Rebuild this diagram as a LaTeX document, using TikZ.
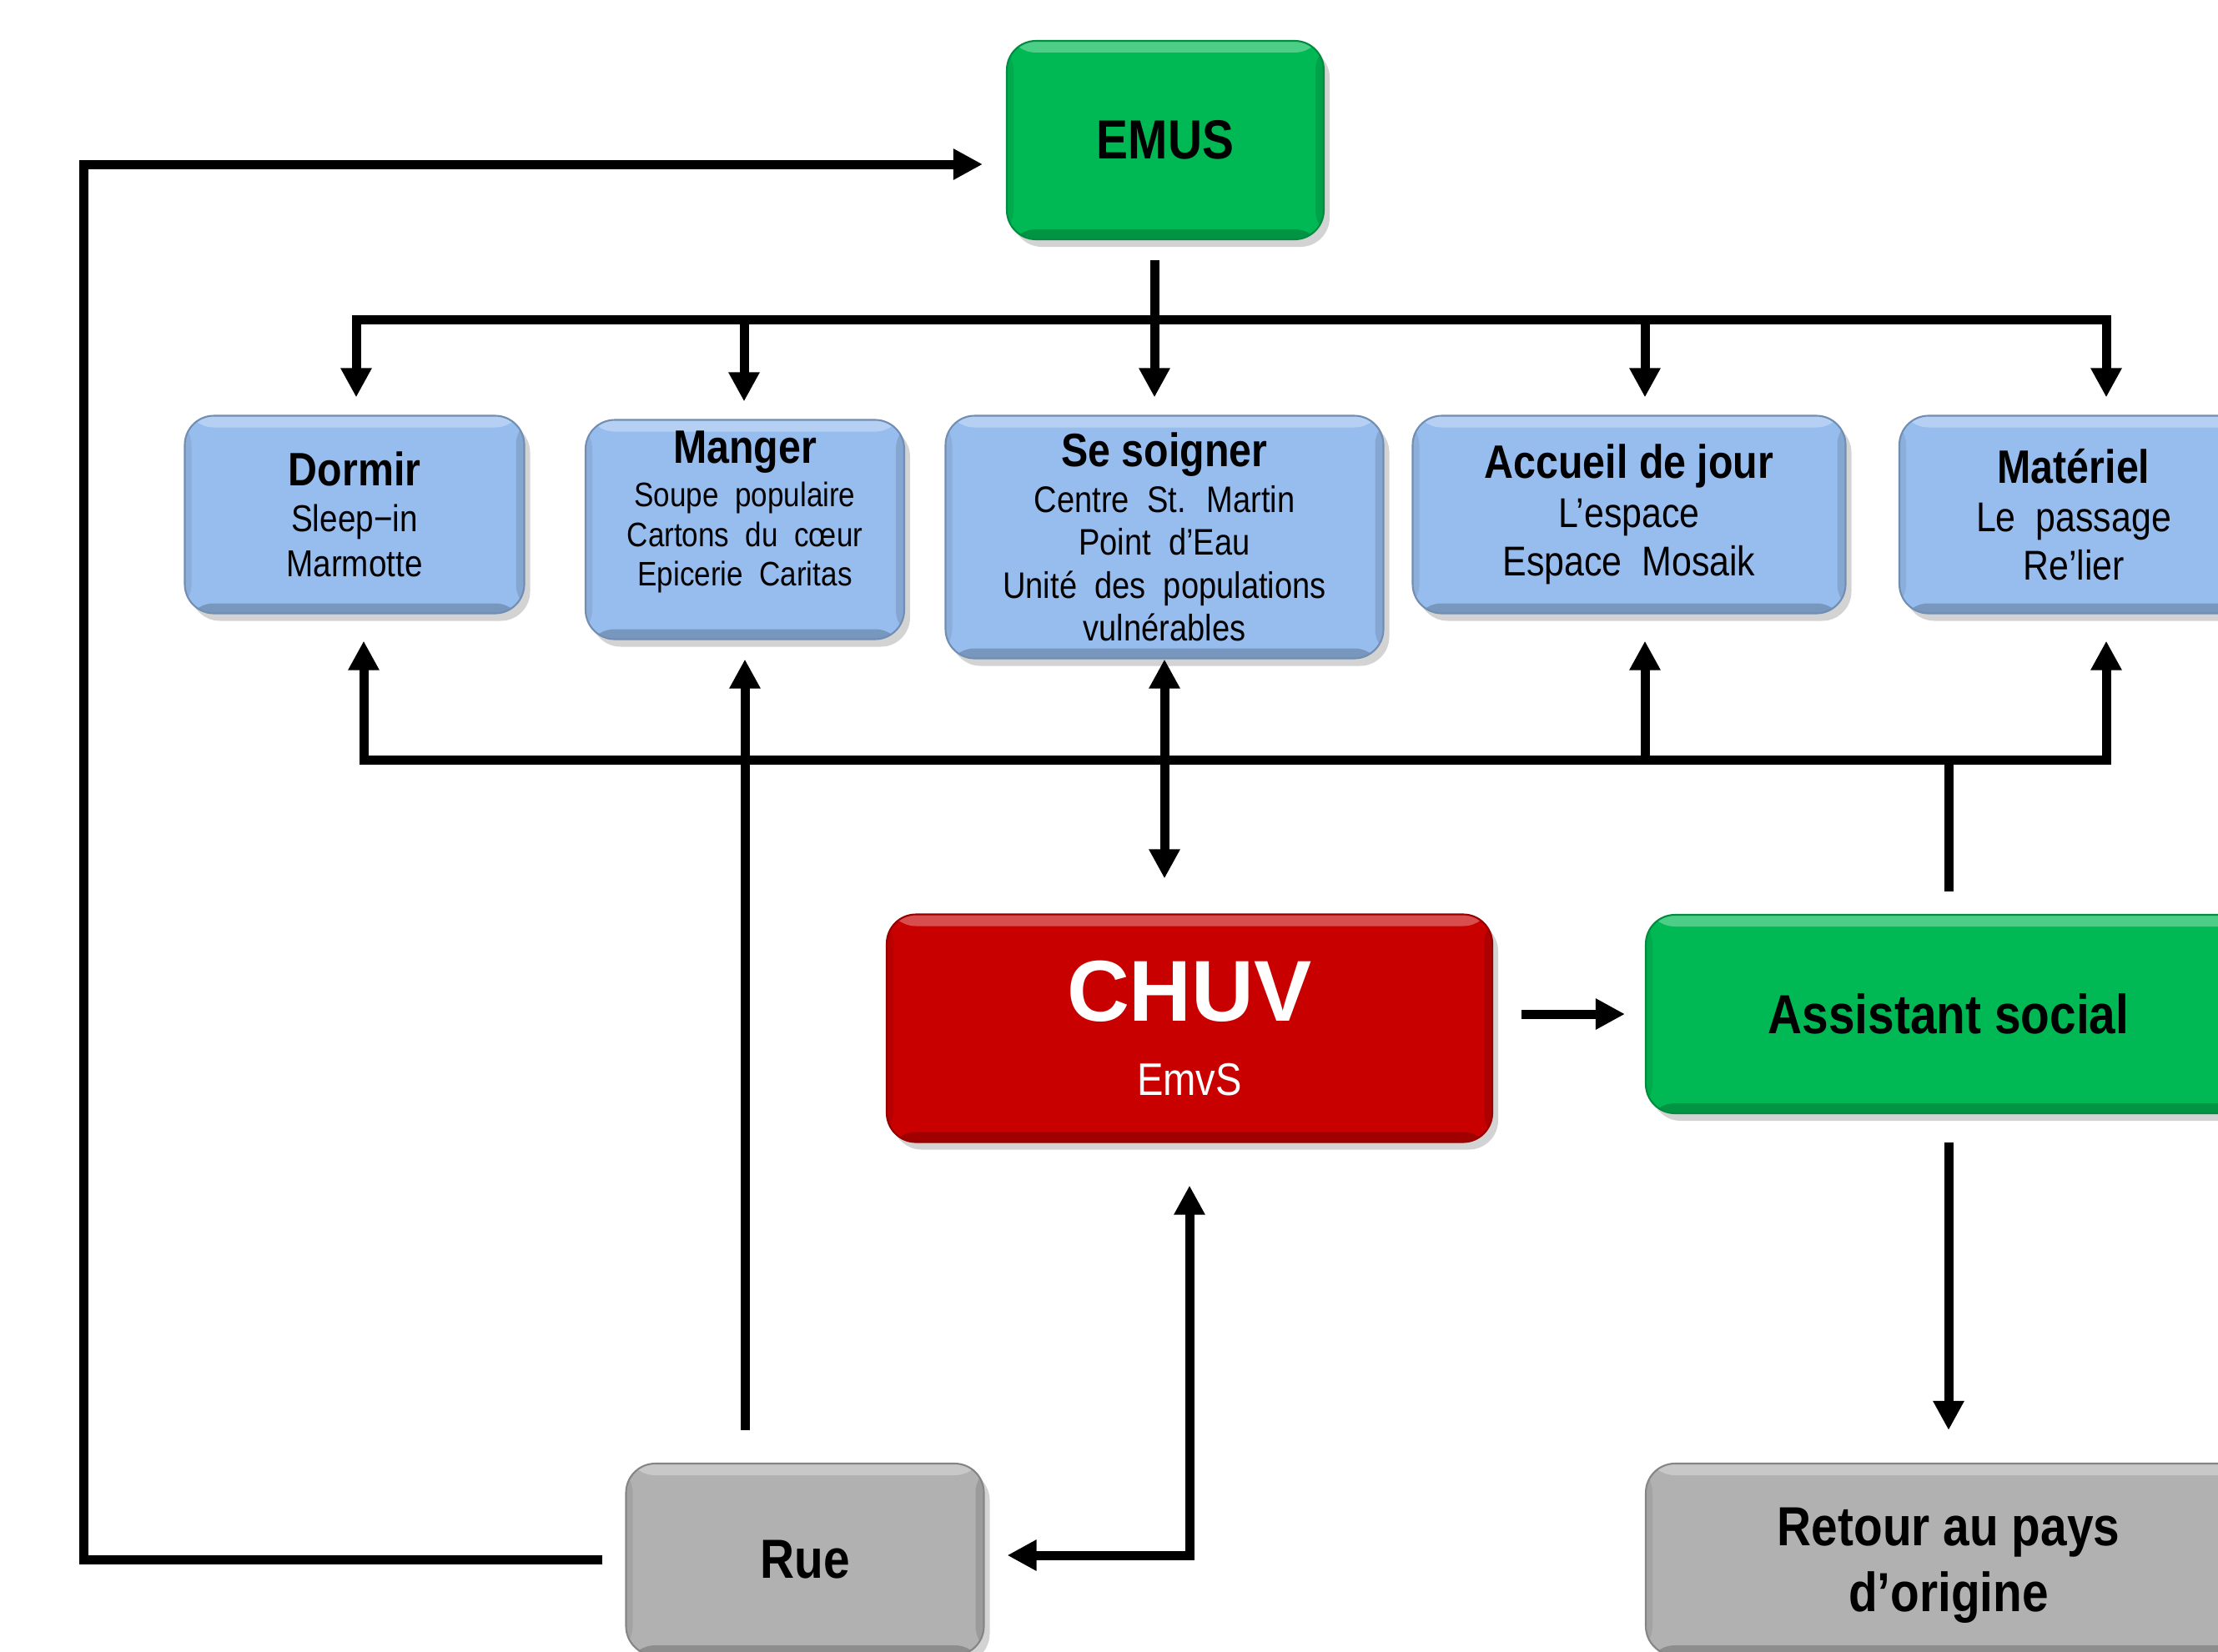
\documentclass[tikz,border=0pt]{standalone}
\usepackage{fontspec}
\setmainfont{Liberation Sans}
\newfontfamily\narrowsf{Liberation Sans}[FakeStretch=0.86]
\usetikzlibrary{positioning}
\usetikzlibrary{arrows.meta,shapes,shadows,calc}
\definecolor{emusgreen}{RGB}{0,185,84}
\definecolor{boxblue}{RGB}{151,189,238}
\definecolor{chuvred}{RGB}{200,0,0}
\definecolor{ruegray}{RGB}{177,177,177}
\newcommand\subfont[2]{\narrowsf\fontsize{#1}{#2}\selectfont}
\newcommand\boxtitle[1]{{\fontsize{16}{19}\selectfont\bfseries #1}}
\tikzset{
    >={Triangle[length=3.5mm, width=3.5mm]}, % big flat arrow heads
    link/.style={line width=0.11cm},
    bevel/.style={path picture={
        \fill[white, opacity=0.3] (path picture bounding box.north west) rectangle ([yshift=-0.14cm]path picture bounding box.north east);
        \fill[black, opacity=0.2] (path picture bounding box.south west) rectangle ([yshift=0.12cm]path picture bounding box.south east);
        \fill[black, opacity=0.12] (path picture bounding box.north east) rectangle ([xshift=-0.1cm]path picture bounding box.south east);
        \fill[black, opacity=0.08] (path picture bounding box.north west) rectangle ([xshift=0.08cm]path picture bounding box.south west);
    }},
    box/.style={rectangle, rounded corners=0.35cm, inner sep=0pt, align=center,
        fill=#1, draw=#1!75!black, line width=0.6pt, bevel,
        drop shadow={shadow xshift=0.07cm, shadow yshift=-0.09cm, opacity=0.35}},
    greenbox/.style={box=emusgreen, font={\subfont{18.8}{22}\bfseries}},
    bluebox/.style={box=boxblue},
    graybox/.style={box=ruegray, font={\subfont{18.8}{22.5}\bfseries}},
}

\begin{document}
\begin{tikzpicture}
    \path[use as bounding box] (0,0) rectangle (26.59,-19.80);
    \clip (0,0) rectangle (26.59,-19.80);

    \node[greenbox, minimum width=3.8cm, minimum height=2.38cm] (emus) at (13.97,-1.68) {EMUS};

    \node[bluebox, minimum width=4.07cm, minimum height=2.37cm, font=\subfont{12.8}{15.5}] (dormir) at (4.25,-6.17)
        {\boxtitle{Dormir}\\ Sleep−in\\ Marmotte};
    \node[bluebox, minimum width=3.82cm, minimum height=2.63cm, font=\subfont{11.6}{13.6}] (manger) at (8.93,-6.35)
        {\boxtitle{Manger}\\[1pt] Soupe~ populaire\\ Cartons~ du~ cœur\\ Epicerie~ Caritas\rule[-0.5cm]{0pt}{0.5cm}};
    \node[bluebox, minimum width=5.25cm, minimum height=2.91cm, font=\subfont{12.6}{14.6}] (soigner) at (13.96,-6.44)
        {\boxtitle{Se soigner}\\[1pt] Centre~ St.~ Martin\\ Point~ d’Eau\\ Unité~ des~ populations\\ vulnérables};
    \node[bluebox, minimum width=5.19cm, minimum height=2.37cm, font=\subfont{14.2}{16.6}] (accueil) at (19.53,-6.17)
        {\boxtitle{Accueil de jour}\\ L’espace\\ Espace~ Mosaik};
    \node[bluebox, minimum width=4.18cm, minimum height=2.37cm, font=\subfont{14.2}{16.6}] (materiel) at (24.86,-6.17)
        {\boxtitle{Matériel}\\ Le~ passage\\ Re’lier};

    \node[box=chuvred, minimum width=7.26cm, minimum height=2.73cm, text=white, font=\subfont{15.6}{18}] (chuv) at (14.26,-12.33)
        {{\rmfamily\fontsize{29.5}{31}\selectfont\bfseries CHUV}\\[7.5pt] EmvS};
    \node[greenbox, minimum width=7.26cm, minimum height=2.38cm] (assist) at (23.36,-12.16) {Assistant social};

    \node[graybox, minimum width=4.29cm, minimum height=2.30cm] (rue) at (9.65,-18.70) {Rue};
    \node[graybox, minimum width=7.26cm, minimum height=2.30cm] (retour) at (23.36,-18.70)
        {\rule{0pt}{17pt}Retour au pays\\ d’origine};

    % EMUS to the five services
    \coordinate (fork) at (13.84,-3.83);
    \draw[link, shorten <=0.24cm] (emus.south -| fork) -- (fork);
    \draw[link, ->, shorten >=0.21cm] (fork) -| ([xshift=0.02cm]dormir.north);
    \draw[link, ->, shorten >=0.21cm] (fork) -| ([xshift=-0.01cm]manger.north);
    \draw[link, ->, shorten >=0.21cm] (fork) -| ([xshift=-0.12cm]soigner.north);
    \draw[link, ->, shorten >=0.21cm] (fork) -| ([xshift=0.19cm]accueil.north);
    \draw[link, ->, shorten >=0.21cm] (fork) -| ([xshift=0.39cm]materiel.north);

    % assistant social back to the services
    \coordinate (join) at (23.36,-9.11);
    \draw[link, shorten <=0.27cm] (assist.north) -- (join);
    \draw[link, ->, shorten >=0.32cm] (join) -| ([xshift=0.11cm]dormir.south);
    \draw[link, ->, shorten >=0.32cm] (join) -| ([xshift=0.19cm]accueil.south);
    \draw[link, ->, shorten >=0.32cm] (join) -| ([xshift=0.39cm]materiel.south);

    \draw[link, <->, shorten >=0.42cm] (soigner.south) -- (soigner.south |- chuv.north);
    \draw[link, ->, shorten <=0.39cm, shorten >=0.23cm] (manger.south |- rue.north) -- (manger.south);
    \draw[link, ->, shorten <=0.34cm, shorten >=0.24cm] (chuv.east |- assist.west) -- (assist.west);
    \draw[link, ->, shorten <=0.34cm, shorten >=0.39cm] (assist.south) -- (retour.north);
    \draw[link, <->, shorten <=0.27cm, shorten >=0.51cm] ([yshift=0.05cm]rue.east) -| (chuv.south);

    % the street back to EMUS
    \draw[link, ->, shorten <=0.27cm, shorten >=0.28cm] (rue.west) -- ++(-6.49,0) |- ([yshift=-0.29cm]emus.west);
\end{tikzpicture}
\end{document}
